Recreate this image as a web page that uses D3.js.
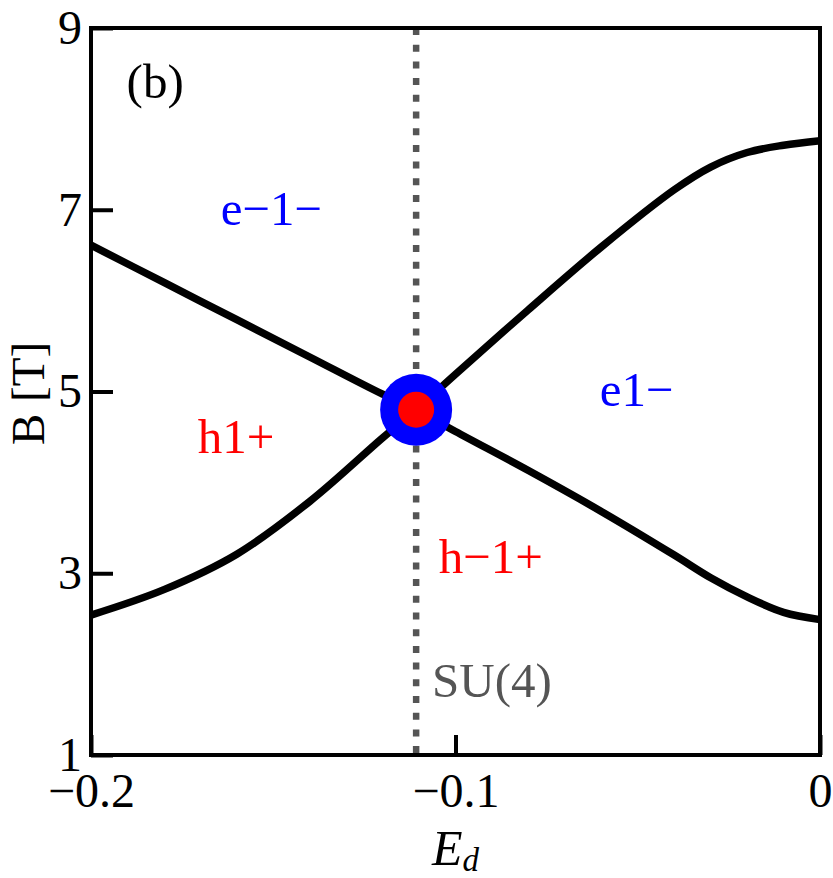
<!DOCTYPE html>
<html>
<head>
<meta charset="utf-8">
<script src="https://cdn.jsdelivr.net/npm/d3@7"></script>
<style>
  html, body { margin: 0; padding: 0; background: #fff; }
  svg { display: block; font-family: "Liberation Serif", "Times New Roman", serif; }
</style>
</head>
<body>
<svg id="chart" width="833" height="878"></svg>
<script>
// ---- data ----
const Ed = [-0.2, -0.18, -0.16, -0.14, -0.12, -0.1108, -0.10, -0.08, -0.06, -0.04, -0.03, -0.02, -0.01, 0];
const bDescending = [6.61, 6.20, 5.79, 5.38, 4.97, 4.80, 4.56, 4.13, 3.68, 3.20, 2.95, 2.74, 2.57, 2.49];
const bAscending  = [2.54, 2.82, 3.21, 3.79, 4.49, 4.80, 5.19, 5.90, 6.59, 7.22, 7.47, 7.63, 7.71, 7.76];
const su4Ed = -0.1108;
const su4B = 4.80;
const xTicks = [-0.2, -0.1, 0];
const yTicks = [1, 3, 5, 7, 9];
const regionLabels = [
  { text: "e\u22121\u2212", e: -0.1505, b: 6.83, color: "#0000ff" },
  { text: "h1+",            e: -0.1602, b: 4.32, color: "#ff0000" },
  { text: "e1\u2212",       e: -0.0503, b: 4.84, color: "#0000ff" },
  { text: "h\u22121+",      e: -0.0903, b: 3.00, color: "#ff0000" },
  { text: "SU(4)",          e: -0.0900, b: 1.64, color: "#555555" },
  { text: "(b)",            e: -0.1824, b: 8.23, color: "#000000" }
];

// ---- layout ----
const svg = d3.select("#chart");
const L = 91, R = 820, T = 28, B = 755;
const x = d3.scaleLinear().domain([-0.2, 0]).range([L, R]);
const y = d3.scaleLinear().domain([1, 9]).range([B, T]);

// dotted SU(4) line
svg.append("line")
  .attr("x1", x(su4Ed)).attr("x2", x(su4Ed))
  .attr("y1", y(9)).attr("y2", y(1))
  .attr("stroke", "#555555").attr("stroke-width", 6.5)
  .attr("stroke-dasharray", "7,9.7");

// curves
const line = d3.line()
  .x((d, i) => x(Ed[i]))
  .y(d => y(d))
  .curve(d3.curveCatmullRom.alpha(0.5));

[bDescending, bAscending].forEach(s => {
  svg.append("path")
    .datum(s)
    .attr("d", line)
    .attr("fill", "none")
    .attr("stroke", "#000")
    .attr("stroke-width", 7.5)
    .attr("stroke-linecap", "butt");
});

// SU(4) point
svg.append("circle").attr("cx", x(su4Ed)).attr("cy", y(su4B)).attr("r", 36).attr("fill", "#0000ff");
svg.append("circle").attr("cx", x(su4Ed)).attr("cy", y(su4B)).attr("r", 18).attr("fill", "#ff0000");

// axes (inward ticks)
const fmt = d3.format(".1~f");
const xAxis = svg.append("g").attr("transform", `translate(0,${B})`)
  .call(d3.axisBottom(x).tickValues(xTicks).tickSize(-20).tickPadding(18)
        .tickFormat(d => d === 0 ? "0" : fmt(d)));
const yAxis = svg.append("g").attr("transform", `translate(${L},0)`)
  .call(d3.axisLeft(y).tickValues(yTicks).tickSize(-22).tickPadding(9));
[xAxis, yAxis].forEach(g => {
  g.select(".domain").remove();
  g.selectAll(".tick line").attr("stroke", "#000").attr("stroke-width", 4);
  g.selectAll(".tick text").attr("fill", "#000")
    .style("font-family", '"Liberation Serif", "Times New Roman", serif')
    .style("font-size", "48px");
});

// frame
svg.append("rect")
  .attr("x", L).attr("y", T).attr("width", R - L).attr("height", B - T)
  .attr("fill", "none").attr("stroke", "#000").attr("stroke-width", 4);

// region labels
svg.selectAll("text.region").data(regionLabels).enter().append("text")
  .attr("class", "region")
  .attr("x", d => x(d.e)).attr("y", d => y(d.b))
  .attr("text-anchor", "middle")
  .attr("fill", d => d.color)
  .style("font-size", "49px")
  .text(d => d.text);

// axis titles
const xt = svg.append("text")
  .attr("x", x(-0.1)).attr("y", 865)
  .attr("text-anchor", "middle")
  .style("font-size", "50px").style("font-style", "italic");
xt.append("tspan").text("E");
xt.append("tspan").attr("dy", 6).style("font-size", "33px").text("d");

svg.append("text")
  .attr("transform", `translate(44,${y(5) + 2}) rotate(-90)`)
  .attr("text-anchor", "middle")
  .style("font-size", "47px")
  .text("B [T]");
</script>
</body>
</html>
